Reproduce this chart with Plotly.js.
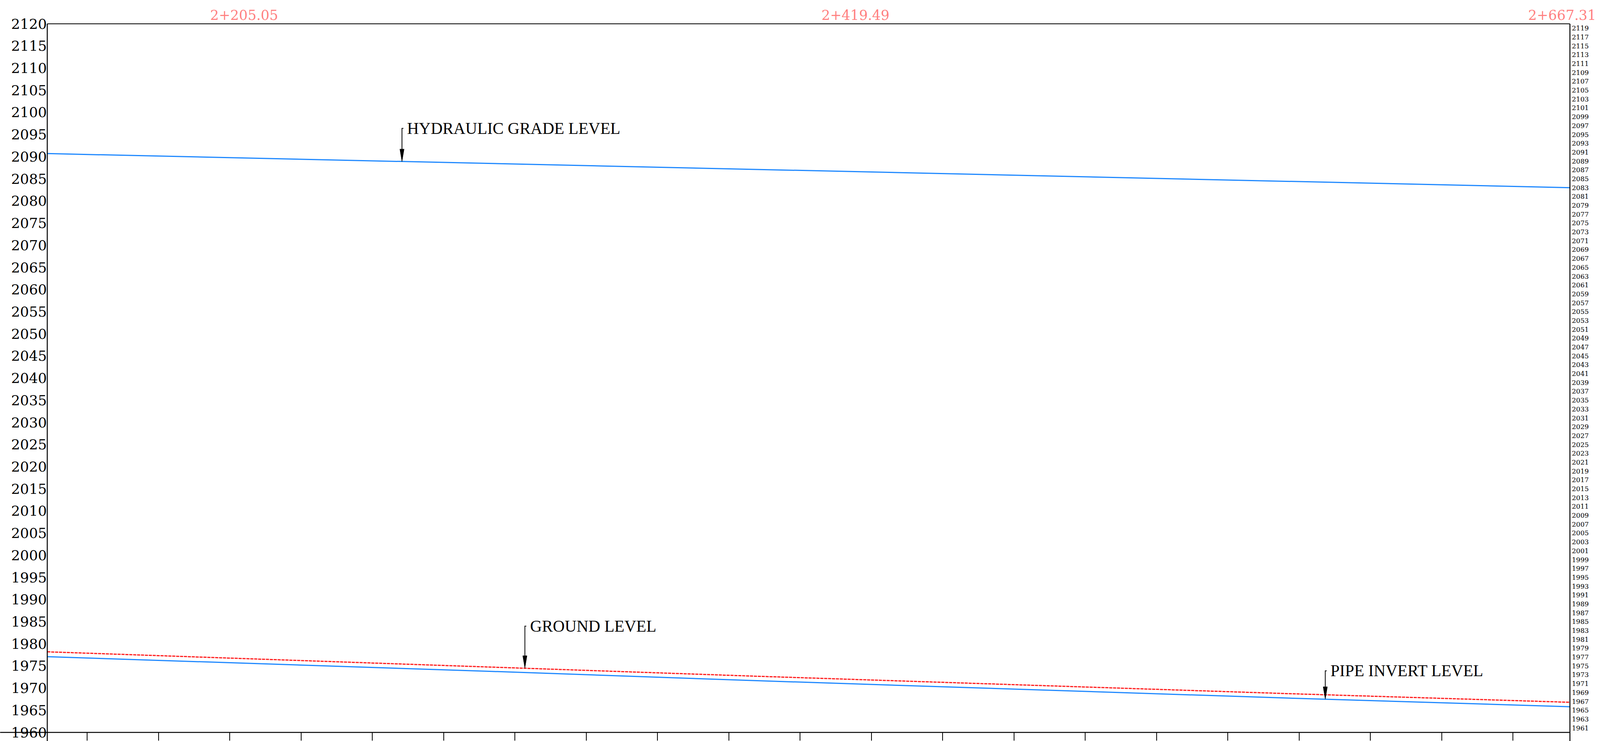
<!DOCTYPE html>
<html>
<head>
<meta charset="utf-8">
<script src="https://cdn.plot.ly/plotly-3.0.1.min.js"></script>
<style>html,body{margin:0;padding:0;background:#fff;overflow:hidden;}</style>
</head>
<body>
<div id="chart"></div>
<script>
// Chainage (m) and levels (m)
const hglX = [2136, 2238.5, 2331, 2670];
const hglY = [2090.7, 2089.2, 2087.9, 2083.0];

const groundX = [2136, 2291, 2384, 2569, 2670];
const groundY = [1978.2, 1974.8, 1972.7, 1968.8, 1966.8];

const invertX = [2136, 2291, 2384, 2569, 2670];
const invertY = [1977.1, 1973.8, 1971.7, 1967.8, 1965.8];

// Station labels along the top
const stationX = [2205.05, 2419.49, 2667.31];
const stationLabels = ['2+205.05', '2+419.49', '2+667.31'];

// Callouts
const calloutText = ['HYDRAULIC GRADE LEVEL', 'GROUND LEVEL', 'PIPE INVERT LEVEL'];
const calloutX = [2260.4, 2303.5, 2584.2];
const calloutTop = [2096.4, 1984.0, 1973.9];
const calloutTip = [2088.9, 1974.5, 1967.5];

const xRange = [2136, 2670];
const yRange = [1960, 2120];

// Fit the 4243x1898 design into the actual viewport
const W = Math.min(window.innerWidth || 4243, 4243);
const H = 1898;
const sx = W / 4243;
const mL = 125 * sx, mR = 80 * sx, mT = 61, mB = 22;
const plotW = W - mL - mR, plotH = H - mT - mB;
document.getElementById('chart').style.width = W + 'px';
document.getElementById('chart').style.height = H + 'px';

const traces = [
  {x: hglX, y: hglY, mode: 'lines', line: {color: 'rgb(30,136,255)', width: 3}, hoverinfo: 'none'},
  {x: groundX, y: groundY, mode: 'lines', line: {color: 'rgb(255,30,30)', width: 3, dash: '8px,2px'}, hoverinfo: 'none'},
  {x: invertX, y: invertY, mode: 'lines', line: {color: 'rgb(30,136,255)', width: 3}, hoverinfo: 'none', yaxis: 'y2'}
];

const headLen = 2.8;
const headHalf = 0.73;
const shapes = [];
calloutX.forEach((x, i) => {
  shapes.push({type: 'path', xref: 'x', yref: 'y',
    path: `M${x + 0.5},${calloutTop[i]} L${x},${calloutTop[i]} L${x},${calloutTip[i] + headLen}`,
    line: {color: 'black', width: 2}});
  shapes.push({type: 'path', xref: 'x', yref: 'y',
    path: `M${x},${calloutTip[i]} L${x - headHalf},${calloutTip[i] + headLen} L${x + headHalf},${calloutTip[i] + headLen} Z`,
    fillcolor: 'black', line: {color: 'black', width: 1}});
});
const lineStyle = {color: 'black', width: 2.5};
const xLeftOut = -mL / plotW;
const yBelow = -mB / plotH;
shapes.push({type: 'line', xref: 'paper', yref: 'paper', x0: xLeftOut, x1: 1, y0: 0, y1: 0, line: lineStyle, layer: 'above'});
shapes.push({type: 'line', xref: 'paper', yref: 'paper', x0: 0, x1: 1, y0: 1, y1: 1, line: {color: 'black', width: 2}, layer: 'above'});
shapes.push({type: 'line', xref: 'paper', yref: 'paper', x0: 0, x1: 0, y0: yBelow, y1: 1, line: lineStyle, layer: 'above'});
shapes.push({type: 'line', xref: 'paper', yref: 'paper', x0: 1, x1: 1, y0: yBelow, y1: 1, line: lineStyle, layer: 'above'});

const annotations = [];
stationX.forEach((x, i) => {
  annotations.push({x: x, xref: 'x', y: 1, yref: 'paper', yanchor: 'middle', xanchor: 'center', yshift: 22.5,
    text: stationLabels[i], showarrow: false,
    font: {family: 'DejaVu Serif', size: 35, color: 'rgb(255,128,128)'}});
});
calloutText.forEach((t, i) => {
  annotations.push({x: calloutX[i], xref: 'x', y: calloutTop[i], yref: 'y', xanchor: 'left', yanchor: 'middle',
    xshift: 11, text: t, showarrow: false,
    font: {family: 'Liberation Serif', size: 42, color: 'black'}});
});

const layout = {
  width: W, height: H,
  margin: {l: mL, r: mR, t: mT, b: mB, pad: 0},
  paper_bgcolor: 'white', plot_bgcolor: 'white',
  showlegend: false,
  xaxis: {range: xRange, tick0: 2150, dtick: 25, ticks: 'outside', ticklen: 20, tickwidth: 2, tickcolor: 'black',
    showticklabels: false, showgrid: false, zeroline: false, showline: false},
  yaxis: {range: yRange, tick0: 1960, dtick: 5, ticks: '', showgrid: false, zeroline: false, showline: false,
    tickfont: {family: 'DejaVu Serif', size: 36, color: 'black'}, ticklabelstandoff: 0},
  yaxis2: {range: yRange, overlaying: 'y', side: 'right', tick0: 1961, dtick: 2, ticks: '', showgrid: false,
    zeroline: false, showline: false, tickfont: {family: 'DejaVu Serif', size: 17, color: 'black'},
    ticklabelstandoff: 4},
  shapes: shapes,
  annotations: annotations
};

Plotly.newPlot('chart', traces, layout, {staticPlot: true, displayModeBar: false});
</script>
</body>
</html>
